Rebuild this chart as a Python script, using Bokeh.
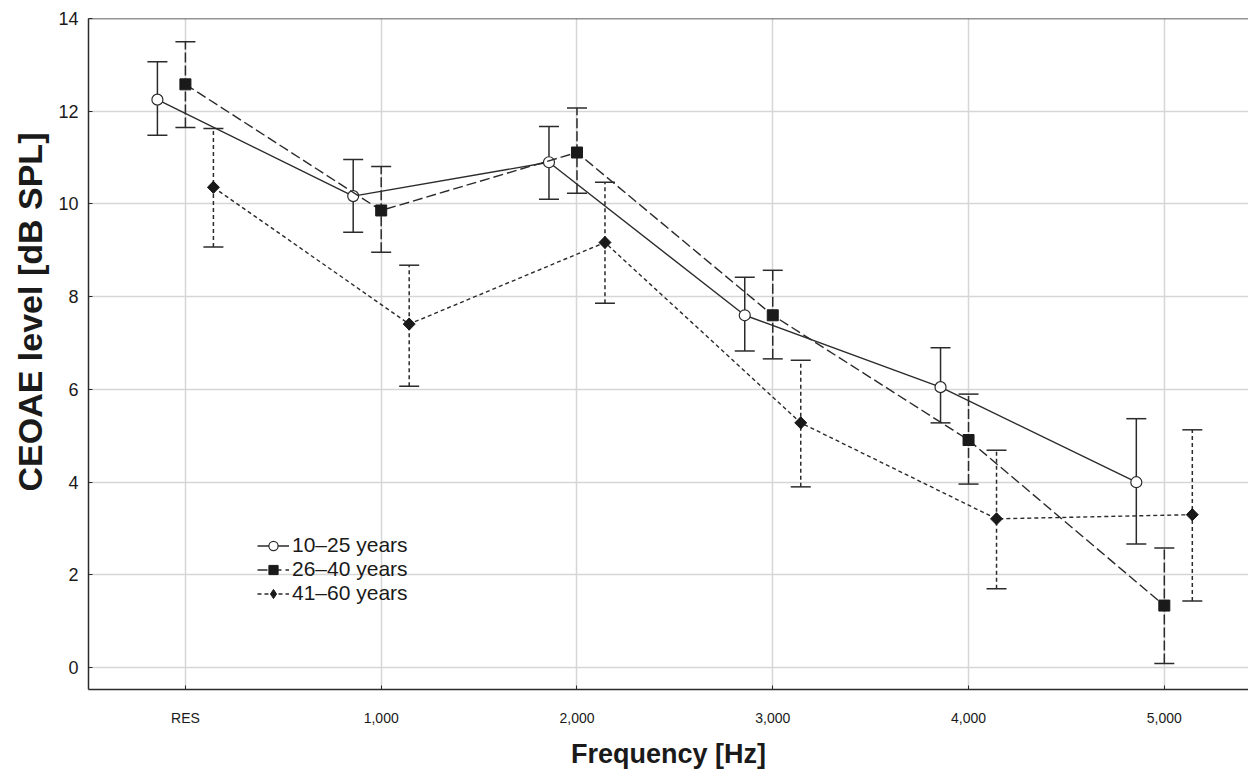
import numpy as np
from bokeh.plotting import figure
from bokeh.models import (ColumnDataSource, Whisker, TeeHead, Range1d, FixedTicker,
                          Legend, LegendItem, Span, Title)
from bokeh.embed import file_html
from bokeh.resources import INLINE

categories = ["RES", "1,000", "2,000", "3,000", "4,000", "5,000"]
y_ticks = [0, 2, 4, 6, 8, 10, 12, 14]
x_title = "Frequency [Hz]"
y_title = "CEOAE level [dB SPL]"

g1_label = "10\u201325 years"
g1_mean = [12.25, 10.17, 10.90, 7.60, 6.05, 4.00]
g1_upper = [13.07, 10.96, 11.67, 8.42, 6.90, 5.37]
g1_lower = [11.48, 9.39, 10.10, 6.83, 5.28, 2.67]

g2_label = "26\u201340 years"
g2_mean = [12.58, 9.86, 11.11, 7.60, 4.91, 1.34]
g2_upper = [13.50, 10.81, 12.07, 8.57, 5.90, 2.58]
g2_lower = [11.65, 8.96, 10.23, 6.66, 3.96, 0.09]

g3_label = "41\u201360 years"
g3_mean = [10.36, 7.41, 9.17, 5.28, 3.21, 3.30]
g3_upper = [11.63, 8.68, 10.47, 6.63, 4.69, 5.13]
g3_lower = [9.07, 6.07, 7.86, 3.90, 1.70, 1.44]

FONT = "Liberation Sans"
INK = "#2b2b2b"
DARK = "#1a1a1a"

p = figure(width=1248, height=771, output_backend="svg", toolbar_location=None,
           x_range=Range1d(-0.495, 5.43), y_range=Range1d(-0.47, 14.0),
           min_border_left=88, min_border_top=18, min_border_right=0, min_border_bottom=81)
p.outline_line_color = None
p.background_fill_color = "white"

idx = np.arange(len(categories))
offsets = [-0.143, 0.0, 0.143]

series = [
    (g1_label, g1_mean, g1_upper, g1_lower, "solid", "solid", "circle"),
    (g2_label, g2_mean, g2_upper, g2_lower, "10 4", "10 3", "square"),
    (g3_label, g3_mean, g3_upper, g3_lower, "4 3", "4 3", "diamond"),
]

items = []
for (label, mean, up, lo, ldash, edash, marker), off in zip(series, offsets):
    src = ColumnDataSource(dict(x=idx + off, y=mean, upper=up, lower=lo))
    w = Whisker(source=src, base="x", upper="upper", lower="lower",
                line_color=INK, line_width=1.5, line_dash=edash,
                upper_head=TeeHead(size=20, line_color=INK, line_width=1.5),
                lower_head=TeeHead(size=20, line_color=INK, line_width=1.5))
    p.add_layout(w)
    lr = p.line("x", "y", source=src, line_color=INK, line_width=1.4, line_dash=ldash)
    if marker == "circle":
        mr = p.scatter("x", "y", source=src, marker="circle", size=11,
                       fill_color="white", line_color=INK, line_width=1.2)
        legend_r = [lr, mr]
    elif marker == "square":
        mr = p.scatter("x", "y", source=src, marker="square", size=11,
                       fill_color=DARK, line_color=DARK)
        legend_r = [lr, mr]
    else:
        p.scatter("x", "y", source=src, marker="square", size=8.5, angle=np.pi / 4,
                  fill_color=DARK, line_color=DARK)
        dr = p.scatter("x", "y", source=src, marker="diamond", size=12,
                       fill_color=DARK, line_color=DARK)
        legend_r = [lr, dr]
    items.append(LegendItem(label=label, renderers=legend_r))

p.add_layout(Span(location=14.0, dimension="width", line_color=INK, line_width=1.5))

legend = Legend(items=items, location=(169, 84), background_fill_alpha=0,
                border_line_color=None, label_text_font=FONT, label_text_font_size="21px",
                label_text_color=DARK, glyph_width=32, glyph_height=23,
                label_height=23, spacing=0, padding=4, margin=0, label_standoff=3)
p.add_layout(legend, "center")

p.xaxis.ticker = FixedTicker(ticks=list(idx))
p.xaxis.major_label_overrides = {int(i): c for i, c in zip(idx, categories)}
p.yaxis.ticker = FixedTicker(ticks=y_ticks)

for ax in (p.xaxis, p.yaxis):
    ax.axis_line_color = INK
    ax.axis_line_width = 1.5
    ax.major_tick_in = 4
    ax.major_tick_out = 0
    ax.major_tick_line_color = INK
    ax.minor_tick_line_color = None
    ax.major_label_text_font = FONT
    ax.major_label_text_color = DARK

p.xaxis.major_label_text_font_size = "14px"
p.xaxis.major_label_standoff = 20
p.xaxis.axis_label = x_title
p.xaxis.axis_label_text_font = FONT
p.xaxis.axis_label_text_font_style = "bold"
p.xaxis.axis_label_text_font_size = "27px"
p.xaxis.axis_label_text_color = DARK
p.xaxis.axis_label_text_line_height = 1.0
p.xaxis.axis_label_standoff = 10

p.yaxis.major_label_text_font_size = "18px"
p.yaxis.major_label_standoff = 10

p.add_layout(Title(text=y_title, align="left", offset=198, standoff=14,
                   text_font=FONT, text_font_style="bold", text_font_size="34px",
                   text_color=DARK), "left")

p.xgrid.grid_line_color = "#d6d6d6"
p.ygrid.grid_line_color = "#d6d6d6"
p.xgrid.grid_line_width = 1.5
p.ygrid.grid_line_width = 1.5

open("out.html", "w").write(file_html(p, INLINE))
